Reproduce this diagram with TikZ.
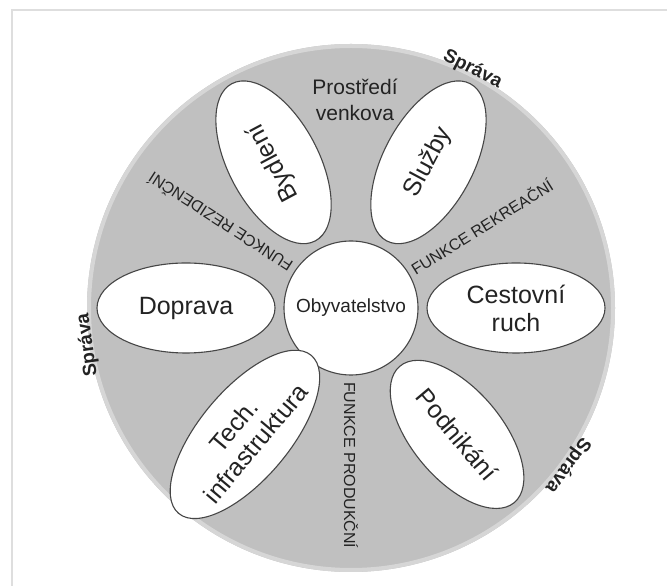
\documentclass[tikz,border=0pt]{standalone}
\usepackage{fontspec}
\setmainfont{Liberation Sans}
\usepackage{xcolor}
\usetikzlibrary{shapes.geometric}

\definecolor{diskgray}{RGB}{192,192,192}
\definecolor{rimgray}{RGB}{214,214,214}
\definecolor{framegray}{RGB}{222,222,222}
\definecolor{linegray}{RGB}{70,70,70}
\definecolor{inkgray}{RGB}{35,35,35}

\tikzset{
  petal/.style={ellipse, draw=linegray, line width=1.1pt, fill=white,
    minimum width=178pt, minimum height=90pt, inner sep=0pt, align=center,
    text=inkgray, font=\fontsize{25}{28}\selectfont},
  funkce/.style={anchor=west, inner sep=0pt, text=inkgray,
    font=\fontsize{16}{16}\selectfont},
  sprava/.style={inner sep=0pt, text=inkgray,
    font=\bfseries\fontsize{19}{19}\selectfont},
}

\begin{document}
\begin{tikzpicture}[x=1pt,y=1pt]
\useasboundingbox (0,0) rectangle (667,586);

% frame:
\draw[framegray, line width=2pt] (12,0) -- (12,576) -- (667,576);

% disc:
\fill[diskgray] (351,278) circle (264pt);
\draw[rimgray, line width=4pt] (351,278) circle (262pt);

\node[circle, draw=linegray, line width=1.1pt, fill=white, minimum size=134pt,
  inner sep=0pt, text=inkgray, font=\fontsize{19}{19}\selectfont]
  (obyv) at (351,278) {Obyvatelstvo};


% petals:
\path (obyv.center) ++(0:165pt) node[petal] (cestovni) {Cestovní\\ruch};
\path (obyv.center) ++(62:165pt) node[petal, rotate=62] (sluzby) {Služby};
\path (obyv.center) ++(118:165pt) node[petal, rotate=118] (bydleni) {Bydlení};
\path (obyv.center) ++(180:165pt) node[petal] (doprava) {Doprava};
\path (obyv.center) ++(-130:165pt) node[petal, rotate=50] (tech) {Tech.\\infrastruktura};
\path (obyv.center) ++(-50:165pt) node[petal, rotate=-50] (podnikani) {Podnikání};


% functions:
\path (obyv.center) ++(32:72pt) node[funkce, rotate=32] (rekreacni) {FUNKCE REKREAČNÍ};
\path (obyv.center) ++(147:72pt) node[funkce, rotate=147] (rezidencni) {FUNKCE REZIDENČNÍ};
\path (obyv.center) ++(-90:74pt) node[funkce, rotate=-90] (produkcni) {FUNKCE PRODUKČNÍ};


% top:
\node[align=center, inner sep=0pt, text=inkgray, font=\fontsize{21}{26}\selectfont]
  (prostredi) at (355,486) {Prostředí\\venkova};

% rim:
\path (obyv.center) ++(63:268pt) node[sprava, rotate=-27] (sprava1) {Správa};
\path (obyv.center) ++(188:266pt) node[sprava, rotate=98] (sprava2) {Správa};
\path (obyv.center) ++(-36:268pt) node[sprava, rotate=-126] (sprava3) {Správa};

\end{tikzpicture}
\end{document}
